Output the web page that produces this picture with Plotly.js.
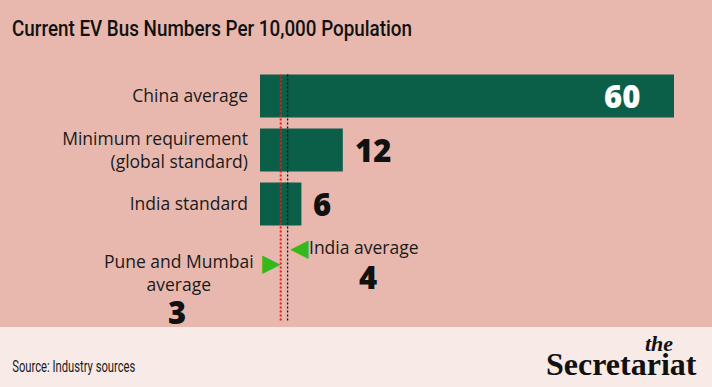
<!DOCTYPE html>
<html>
<head>
<meta charset="utf-8">
<script src="https://cdn.plot.ly/plotly-3.0.1.min.js"></script>
<style>
html,body{margin:0;padding:0;background:#e8b8af;}
#chart{width:712px;height:387px;}
</style>
</head>
<body>
<div id="chart"></div>
<script>
// ---- data ----
const categories = ["China average", "Minimum requirement<br>(global standard)", "India standard"];
const values = [60, 12, 6];
const refLabels = ["Pune and Mumbai<br>average", "India average"];
const refValues = [3, 4];
const titleText = "Current EV Bus Numbers Per 10,000 Population";
const sourceText = "Source: Industry sources";

// ---- styles ----
const bg = "#e8b8af";
const footerBg = "#f7eae7";
const barColor = "#0b5e48";
const triColor = "#35b81c";
const titleFont = "Roboto, 'Open Sans', sans-serif";
const txtFont = "'Open Sans', Roboto, sans-serif";
const numFont = "'Open Sans', Lato, sans-serif";
const srcFont = "Roboto, sans-serif";
const srcWidth = 123;

const idx = categories.map((c, i) => i);

const bar = {
  type: "bar",
  orientation: "h",
  y: idx,
  x: values,
  width: 0.8,
  marker: {color: barColor},
  hoverinfo: "skip"
};

const annotations = [];
// value labels
values.forEach((v, i) => {
  const inside = v > 30;
  annotations.push({
    x: v, y: i, xref: "x", yref: "y",
    text: String(v),
    showarrow: false,
    xanchor: inside ? "right" : "left",
    xshift: inside ? -32 : 10,
    yanchor: "middle",
    font: {family: numFont, size: 31, weight: 800, color: inside ? "#ffffff" : "#111111"}
  });
});

// Pune and Mumbai average (pointing right to its line)
const rowY = categories.length; // next row below the bars
annotations.push({
  x: refValues[0], y: rowY, xref: "x", yref: "y",
  text: "\u25B6", showarrow: false, xanchor: "right", xshift: 2, yshift: -5,
  font: {family: "DejaVu Sans", size: 24, color: triColor}
});
annotations.push({
  x: refValues[0], y: rowY, xref: "x", yref: "y",
  text: refLabels[0], showarrow: false, xanchor: "right", align: "center",
  xshift: -25, yshift: -14,
  font: {family: txtFont, size: 17.5, color: "#1a1a1a"}
});
annotations.push({
  x: refValues[0], y: rowY, xref: "x", yref: "y",
  text: String(refValues[0]), showarrow: false, xanchor: "center",
  xshift: -104, yshift: -54,
  font: {family: numFont, size: 31, weight: 800, color: "#111111"}
});
// India average (pointing left to its line)
annotations.push({
  x: refValues[1], y: rowY, xref: "x", yref: "y",
  text: "\u25C0", showarrow: false, xanchor: "left", xshift: 0, yshift: 10,
  font: {family: "DejaVu Sans", size: 24, color: triColor}
});
annotations.push({
  x: refValues[1], y: rowY, xref: "x", yref: "y",
  text: refLabels[1], showarrow: false, xanchor: "left",
  xshift: 19, yshift: 11,
  font: {family: txtFont, size: 17.5, color: "#1a1a1a"}
});
annotations.push({
  x: refValues[1], y: rowY, xref: "x", yref: "y",
  text: String(refValues[1]), showarrow: false, xanchor: "center",
  xshift: 80, yshift: -19,
  font: {family: numFont, size: 31, weight: 800, color: "#111111"}
});

// source + logo
annotations.push({
  xref: "paper", yref: "paper", x: (12 + srcWidth/2 - 260)/414, y: -(366-339)/270,
  text: sourceText, showarrow: false, xanchor: "center", yanchor: "middle",
  font: {family: srcFont, size: 16, color: "#1a1a1a"}
});
annotations.push({
  xref: "paper", yref: "paper", x: (699-260)/414, y: -(364-339)/270,
  text: "Secretariat", showarrow: false, xanchor: "right", yanchor: "middle",
  font: {family: "'Liberation Serif', serif", size: 32, weight: 700, color: "#111111"}
});
annotations.push({
  xref: "paper", yref: "paper", x: (675-260)/414, y: -(343-339)/270,
  text: "<i>the</i>", showarrow: false, xanchor: "right", yanchor: "middle",
  font: {family: "'Liberation Serif', serif", size: 22, weight: 700, color: "#111111"}
});

const shapes = [
  // footer band
  {type: "rect", xref: "paper", yref: "paper", x0: -1, x1: 2,
   y0: -(387-339)/270 - 0.1, y1: -(327-339)/270, fillcolor: footerBg, line: {width: 0}, layer: "below"},
  // reference lines
  {type: "line", xref: "x", yref: "y", x0: refValues[0], x1: refValues[0], y0: -0.4, y1: 4.18,
   line: {color: "#ff1010", width: 2, dash: "2px,2px"}},
  {type: "line", xref: "x", yref: "y", x0: refValues[1], x1: refValues[1], y0: -0.4, y1: 4.18,
   line: {color: "#111111", width: 1.3, dash: "2px,2px"}}
];

const layout = {
  width: 712, height: 387,
  margin: {l: 260, r: 38, t: 69, b: 48},
  paper_bgcolor: bg, plot_bgcolor: "rgba(0,0,0,0)",
  showlegend: false,
  title: {text: titleText, x: 12/712, xanchor: "left", y: 1 - 28/387, yanchor: "middle",
          font: {family: titleFont, size: 22, weight: 500, color: "#111111"}},
  xaxis: {range: [0, 60], visible: false, fixedrange: true},
  yaxis: {range: [4.5, -0.5], tickvals: idx, ticktext: categories, showgrid: false,
          zeroline: false, showline: false, ticks: "", ticklabelstandoff: 11,
          tickfont: {family: txtFont, size: 17.5, color: "#1a1a1a"}, fixedrange: true},
  annotations: annotations,
  shapes: shapes
};

Plotly.newPlot("chart", [bar], layout, {displayModeBar: false, staticPlot: true}).then(gd => {
  // the reference uses a condensed face for the title and the source line
  const fit = (el, w) => {
    if (!el) return;
    el.setAttribute("textLength", w);
    el.setAttribute("lengthAdjust", "spacingAndGlyphs");
  };
  fit(gd.querySelector(".gtitle"), 400);
  gd.querySelectorAll(".annotation-text").forEach(t => {
    if (t.textContent === sourceText) fit(t, srcWidth);
  });
});
</script>
</body>
</html>
